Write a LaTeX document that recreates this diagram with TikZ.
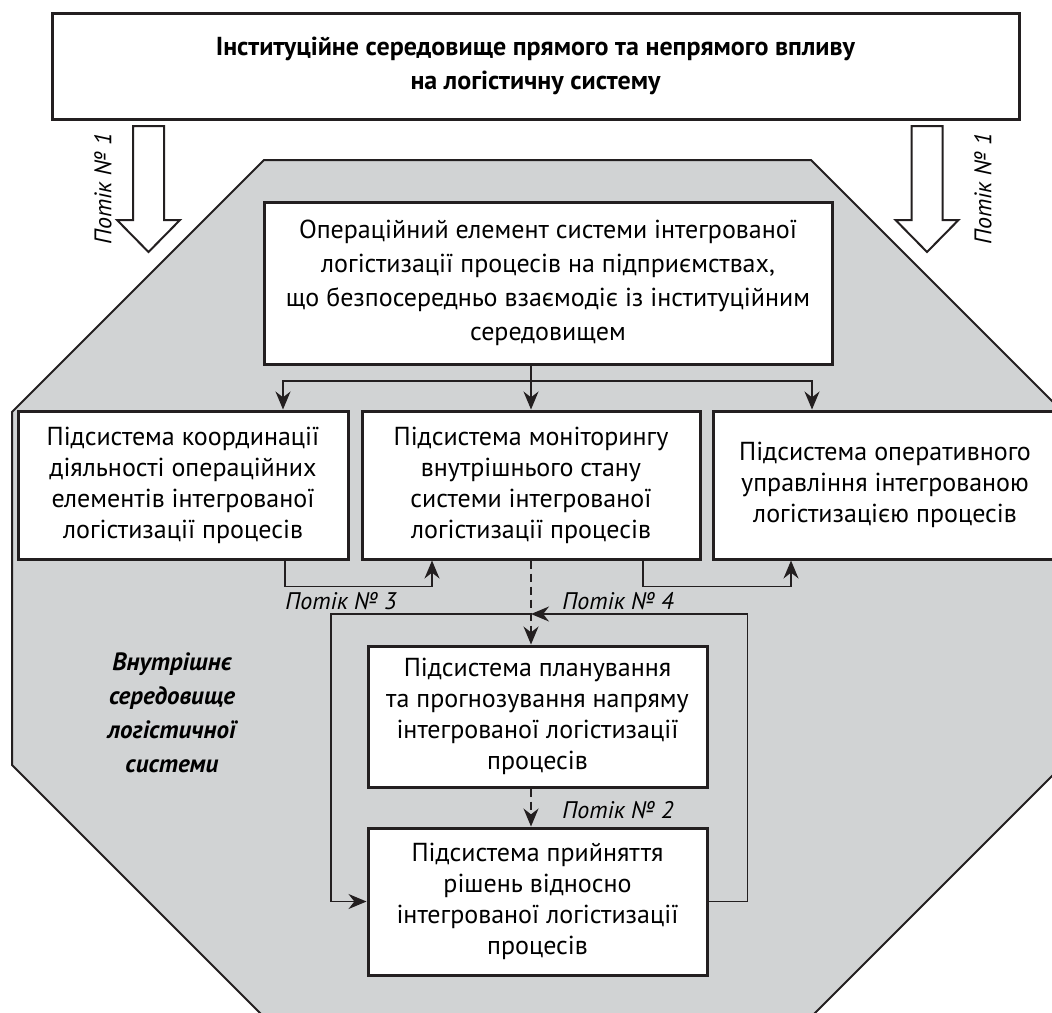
\documentclass[tikz,border=0pt]{standalone}
\usepackage{fontspec}
\setmainfont{PT Sans}
\usetikzlibrary{arrows.meta}

\definecolor{envgray}{RGB}{209,211,212}
\definecolor{inkline}{RGB}{35,31,32}

\tikzset{
  block/.style={draw=inkline, line width=1.5pt, fill=white, align=center,
    inner sep=0pt, font=\fontsize{13}{15.5}\selectfont},
  flow/.style={draw=inkline, line width=0.7pt, -{Stealth[length=9pt,width=7.5pt]}},
  flowtag/.style={inner sep=0pt, font=\fontsize{12}{14}\selectfont\itshape},
  bigarrow/.style={draw=inkline, line width=1pt, fill=white},
}

\begin{document}
\begin{tikzpicture}[x=0.5pt,y=-0.5pt]
  \clip (0,0) rectangle (1052,1012);

  % -- inner environment (octagon, cut by the page edges) --
  \filldraw[fill=envgray, draw=inkline, line width=1pt]
    (264,160) -- (811,160) -- (1063,412) -- (1063,765)
    -- (811,1017) -- (264,1017) -- (12,765) -- (12,412) -- cycle;

  % -- institutional environment --
  \node[block, minimum width=483.5pt, minimum height=53pt,
        font=\fontsize{13}{17}\selectfont\bfseries] (inst) at (535.5,66)
    {Інституційне середовище прямого та непрямого впливу\\на логістичну систему};

  % -- two wide arrows of flow 1 --
  \foreach \ax in {148.5,927}
    \draw[bigarrow] (\ax-15.5,126) -- (\ax+15.5,126) -- (\ax+15.5,220)
      -- (\ax+31.5,220) -- (\ax,252) -- (\ax-31.5,220) -- (\ax-15.5,220) -- cycle;
  \node[flowtag, rotate=90] (flowL) at (103,189) {Потік № 1};
  \node[flowtag, rotate=90] (flowR) at (983,189) {Потік № 1};

  % -- operational element --
  \node[block, minimum width=284pt, minimum height=81pt,
        font=\fontsize{13}{17}\selectfont] (oper) at (548,283)
    {Операційний елемент системи інтегрованої\\логістизації процесів на підприємствах,\\що безпосередньо взаємодіє із інституційним\\середовищем};

  % -- three subsystems in a row --
  \node[block, minimum width=165pt, minimum height=74pt] (coord) at (183,485)
    {Підсистема координації\\діяльності операційних\\елементів інтегрованої\\логістизації процесів};
  \node[block, minimum width=169pt, minimum height=74pt] (monit) at (531,485)
    {Підсистема моніторингу\\внутрішнього стану\\системи інтегрованої\\логістизації процесів};
  \node[block, minimum width=172pt, minimum height=74pt] (manage) at (885,485)
    {Підсистема оперативного\\управління інтегрованою\\логістизацією процесів};

  % -- planning and decision --
  \node[block, minimum width=169.5pt, minimum height=70.5pt] (plan) at (537.5,716.5)
    {Підсистема планування\\та прогнозування напряму\\інтегрованої логістизації\\процесів};
  \node[block, minimum width=169.5pt, minimum height=73.5pt] (decide) at (537.5,901.5)
    {Підсистема прийняття\\рішень відносно\\інтегрованої логістизації\\процесів};

  \node[align=center, inner sep=0pt, font=\fontsize{12.5}{17}\selectfont\bfseries\itshape]
    (inner) at (172,713) {Внутрішнє\\середовище\\логістичної\\системи};

  % -- branching from the operational element --
  \coordinate (split) at (531,381);
  \draw[flow] (oper.south -| monit.north) -- (monit.north);
  \draw[flow] (split) -| ([xshift=50pt]coord.north);
  \draw[flow] (split) -| ([xshift=-36.5pt]manage.north);

  % -- flows 3 and 4 --
  \draw[flow] ([xshift=51pt]coord.south) -- ++(0,26) -| ([xshift=-49.5pt]monit.south);
  \draw[flow] ([xshift=56pt]monit.south) -- ++(0,26) -| ([xshift=-47pt]manage.south);
  \node[flowtag] (flow3) at (341,601) {Потік № 3};
  \node[flowtag] (flow4) at (618,601) {Потік № 4};

  % -- dashed flow down, flow 2 --
  \draw[flow, dash pattern=on 4pt off 2.5pt] (monit.south) -- (monit.south |- plan.north);
  \draw[flow, dash pattern=on 4pt off 2.5pt] (plan.south -| monit.south) -- (decide.north -| monit.south);
  \node[flowtag] (flow2) at (618,810) {Потік № 2};

  % -- feedback loop round the decision subsystem --
  \coordinate (loop) at (531,614);
  \draw[flow] (decide.east) -- ++(39,0) |- (loop);
  \draw[flow] (loop) -- ++(-200,0) |- (decide.west);

\end{tikzpicture}
\end{document}
